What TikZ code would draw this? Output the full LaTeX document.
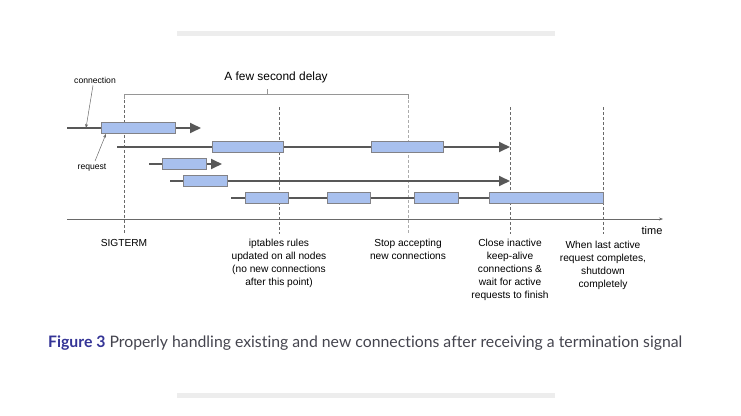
\documentclass[tikz,border=0pt]{standalone}
\usepackage{fontspec}
\setmainfont{Liberation Sans}
\newfontfamily\capfont[Ligatures={NoCommon}]{Lato}
\usetikzlibrary{arrows.meta,positioning}
\definecolor{reqblue}{RGB}{168,192,238}
\definecolor{reqedge}{RGB}{130,130,135}
\definecolor{connline}{RGB}{88,88,88}
\definecolor{markgray}{RGB}{105,105,105}
\definecolor{barbg}{RGB}{237,237,237}
\definecolor{figblue}{RGB}{52,52,150}
\definecolor{captext}{RGB}{68,68,78}

\begin{document}
\begin{tikzpicture}[
    x=1pt, y=-1pt,
    every node/.style={font=\fontsize{10.2}{13}\selectfont, align=center, inner sep=0pt},
    req/.style={draw=reqedge, fill=reqblue, line width=0.8pt, minimum height=11pt, anchor=west},
    conn/.style={line width=1.8pt, color=connline},
    connend/.style={conn, -{Triangle[length=11pt, width=10pt]}},
    tmark/.style={line width=0.6pt, color=markgray, dash pattern=on 3pt off 2pt},
    note/.style={-{Stealth[length=4pt, width=3pt]}, line width=0.5pt, color=markgray},
    tlabel/.style={anchor=north}
]
\useasboundingbox (0,0) rectangle (741,415);
\fill[barbg] (177,31) rectangle (555,36);
\fill[barbg] (177,393) rectangle (555,398);

% time markers
\coordinate (m1a) at (124,95);  \coordinate (m1b) at (124,234);
\coordinate (m2a) at (279,107); \coordinate (m2b) at (279,234);
\coordinate (m3a) at (408,95);  \coordinate (m3b) at (408,234);
\coordinate (m4a) at (510,107); \coordinate (m4b) at (510,234);
\coordinate (m5a) at (603,107); \coordinate (m5b) at (603,234);
\draw[tmark] (m1a) -- (m1b);
\draw[tmark] (m2a) -- (m2b);
\draw[tmark, color=markgray!55] (m3a) -- (m3b);
\draw[tmark] (m4a) -- (m4b);
\draw[tmark] (m5a) -- (m5b);

% delay bracket
\draw[line width=0.6pt, color=markgray!70] (124,99) -- (124,94) -- (408,94) -- (408,99);
\draw[line width=0.6pt, color=markgray!70] (267,94) -- (267,89);
\node (delay) at (276,77) {\fontsize{11.9}{14}\selectfont A few second delay};

% axis
\coordinate (ax0) at (67,219);
\coordinate (ax1) at (663,219);
\draw[line width=0.8pt, color=markgray, -{Stealth[length=4pt, width=3pt]}] (ax0) -- (ax1);
\node (time) at (652,231) {\fontsize{11}{13}\selectfont time};

% row 1
\coordinate (c1s) at (67,128);
\node[req, minimum width=74pt] (r1a) at (101,128) {};
\coordinate (c1e) at (201,128);
\draw[conn] (c1s) -- (r1a);
\draw[connend] (r1a) -- (c1e);

% row 2
\coordinate (c2s) at (117,147);
\node[req, minimum width=71pt] (r2a) at (212,147) {};
\node[req, minimum width=72pt] (r2b) at (371,147) {};
\coordinate (c2e) at (510,147);
\draw[conn] (c2s) -- (r2a);
\draw[conn] (r2a) -- (r2b);
\draw[connend] (r2b) -- (c2e);

% row 3
\coordinate (c3s) at (149,164);
\node[req, minimum width=44pt] (r3a) at (162,164) {};
\coordinate (c3e) at (222,164);
\draw[conn] (c3s) -- (r3a);
\draw[connend] (r3a) -- (c3e);

% row 4
\coordinate (c4s) at (170,181);
\node[req, minimum width=44pt] (r4a) at (183,181) {};
\coordinate (c4e) at (510,181);
\draw[conn] (c4s) -- (r4a);
\draw[connend] (r4a) -- (c4e);

% row 5
\coordinate (c5s) at (231,198);
\node[req, minimum width=43pt] (r5a) at (245,198) {};
\node[req, minimum width=43pt] (r5b) at (327,198) {};
\node[req, minimum width=44pt] (r5c) at (414,198) {};
\node[req, minimum width=114pt] (r5d) at (489,198) {};
\draw[conn] (c5s) -- (r5a);
\draw[conn] (r5a) -- (r5b);
\draw[conn] (r5b) -- (r5c);
\draw[conn] (r5c) -- (r5d);

% callouts
\node (lconn) at (95,80) {\fontsize{8.6}{10}\selectfont connection};
\node (lreq) at (92,168) {\fontsize{8.6}{10}\selectfont request};
\draw[note] (lconn.south) ++(-2,2) -- ([xshift=-15pt]r1a.west);
\draw[note] (lreq.north) ++(3,-3) -- ([xshift=5pt]r1a.south west);

% labels
\node[tlabel] (sig) at (124,239) {SIGTERM};
\node[tlabel] (ipt) at (279,239) {iptables rules\\updated on all nodes\\(no new connections\\after this point)};
\node[tlabel] (stop) at (408,239) {Stop accepting\\new connections};
\node[tlabel] (close) at (510,239) {Close inactive\\keep-alive\\connections \&\\wait for active\\requests to finish};
\node[tlabel] (last) at (603,241) {When last active\\request completes,\\shutdown\\completely};

% caption
\node[anchor=west] (cap) at (48,343) {\capfont\fontsize{15.8}{18}\selectfont\textcolor{figblue}{\bfseries Figure 3} \textcolor{captext}{Properly handling existing and new connections after receiving a termination signal}};
\end{tikzpicture}
\end{document}
